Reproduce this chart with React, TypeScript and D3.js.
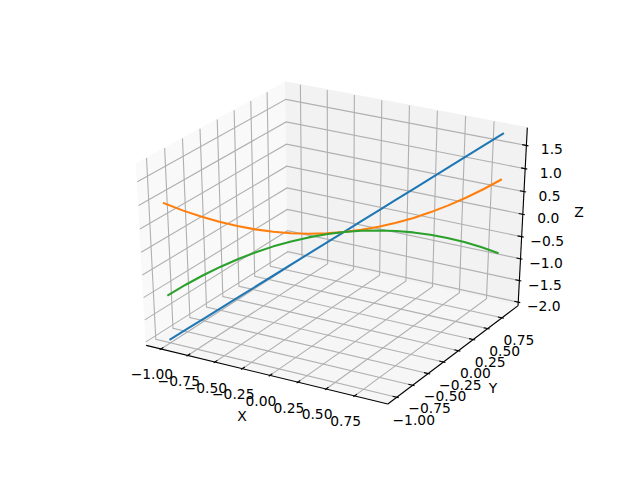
import React from "react";
import * as d3 from "d3";

const xValues = [-1, -0.9, -0.8, -0.7, -0.6, -0.5, -0.4, -0.3, -0.2, -0.1, 0, 0.1, 0.2, 0.3, 0.4, 0.5, 0.6, 0.7, 0.8, 0.9];
const yValues = [-1, -0.9, -0.8, -0.7, -0.6, -0.5, -0.4, -0.3, -0.2, -0.1, 0, 0.1, 0.2, 0.3, 0.4, 0.5, 0.6, 0.7, 0.8, 0.9];
const blueZ = [-2, -1.8, -1.6, -1.4, -1.2, -1, -0.8, -0.6, -0.4, -0.2, 0, 0.2, 0.4, 0.6, 0.8, 1, 1.2, 1.4, 1.6, 1.8];
const orangeZ = [1, 0.81, 0.64, 0.49, 0.36, 0.25, 0.16, 0.09, 0.04, 0.01, 0, 0.01, 0.04, 0.09, 0.16, 0.25, 0.36, 0.49, 0.64, 0.81];
const greenZ = [-1, -0.81, -0.64, -0.49, -0.36, -0.25, -0.16, -0.09, -0.04, -0.01, 0, -0.01, -0.04, -0.09, -0.16, -0.25, -0.36, -0.49, -0.64, -0.81];
const seriesColors = ["#1f77b4", "#ff7f0e", "#2ca02c"];
const xTicks = [-1, -0.75, -0.5, -0.25, 0, 0.25, 0.5, 0.75];
const yTicks = [-1, -0.75, -0.5, -0.25, 0, 0.25, 0.5, 0.75];
const zTicks = [-2, -1.5, -1, -0.5, 0, 0.5, 1, 1.5];

const sx = d3.scaleLinear().domain([-1.1385, 1.0385]).range([0, 1]);
const sy = d3.scaleLinear().domain([-1.1385, 1.0385]).range([0, 1]);
const sz = d3.scaleLinear().domain([-2.08, 1.88]).range([0, 1]);

type V3 = [number, number, number];
const W: V3 = [0.433, -0.75, 0.5];
const U: V3 = [0.866, 0.5, 0];
const Vv: V3 = [-0.25, 0.433, 0.866];
const dot = (a: V3, b: V3) => a[0] * b[0] + a[1] * b[1] + a[2] * b[2];
const DIST = 10;
const screenX = d3.scaleLinear().domain([0, 1]).range([335, 335 + 2790]);
const screenY = d3.scaleLinear().domain([0, 1]).range([237.5, 237.5 - 2076]);

// unit cube -> screen pixels
function pu(a: number, b: number, c: number): [number, number] {
  const p: V3 = [a - 0.5, b - 0.5, c - 0.5];
  const d = DIST - dot(W, p);
  return [screenX(dot(U, p) / d), screenY(dot(Vv, p) / d)];
}
// data -> screen pixels
const pd = (x: number, y: number, z: number) => pu(sx(x), sy(y), sz(z));

const poly = (pts: [number, number][]) => pts.map((p) => p.join(",")).join(" ");
const lineGen = d3.line<[number, number]>().x((d) => d[0]).y((d) => d[1]);
const fmt2 = (v: number) => d3.format(".2f")(v).replace("-", "\u2212");
const fmt1 = (v: number) => d3.format(".1f")(v).replace("-", "\u2212");

export default function App() {
  const series = [blueZ, orangeZ, greenZ];
  const font = "'DejaVu Sans'";
  const grid = "#b0b0b0";
  const lw = 1.11;
  const L = (a: [number, number], b: [number, number], stroke: string, key: string, w = lw) => (
    <line key={key} x1={a[0]} y1={a[1]} x2={b[0]} y2={b[1]} stroke={stroke} strokeWidth={w} />
  );
  const tx = 0.1 / 12;
  return (
    <svg width={640} height={480} style={{ position: "absolute", left: 0, top: 0 }}>
      <rect width={640} height={480} fill="#fff" />
      {/* panes */}
      <polygon points={poly([pu(0, 0, 0), pu(0, 1, 0), pu(0, 1, 1), pu(0, 0, 1)])} fill="#f9f9f9" stroke="#f9f9f9" strokeWidth={lw} />
      <polygon points={poly([pu(0, 1, 0), pu(1, 1, 0), pu(1, 1, 1), pu(0, 1, 1)])} fill="#f2f2f2" stroke="#f2f2f2" strokeWidth={lw} />
      <polygon points={poly([pu(0, 0, 0), pu(1, 0, 0), pu(1, 1, 0), pu(0, 1, 0)])} fill="#f6f6f6" stroke="#f6f6f6" strokeWidth={lw} />
      {/* grids */}
      {xTicks.map((t) => (
        <polyline key={"gx" + t} fill="none" stroke={grid} strokeWidth={lw}
          points={poly([pu(sx(t), 0, 0), pu(sx(t), 1, 0), pu(sx(t), 1, 1)])} />
      ))}
      {yTicks.map((t) => (
        <polyline key={"gy" + t} fill="none" stroke={grid} strokeWidth={lw}
          points={poly([pu(1, sy(t), 0), pu(0, sy(t), 0), pu(0, sy(t), 1)])} />
      ))}
      {zTicks.map((t) => (
        <polyline key={"gz" + t} fill="none" stroke={grid} strokeWidth={lw}
          points={poly([pu(0, 0, sz(t)), pu(0, 1, sz(t)), pu(1, 1, sz(t))])} />
      ))}
      {/* axes lines */}
      {L(pu(0, 0, 0), pu(1, 0, 0), "#000", "ax")}
      {L(pu(1, 0, 0), pu(1, 1, 0), "#000", "ay")}
      {L(pu(1, 1, 0), pu(1, 1, 1), "#000", "az")}
      {/* ticks */}
      {xTicks.map((t) => L(pu(sx(t), tx * 2, 0), pu(sx(t), -tx, 0), "#000", "tx" + t))}
      {yTicks.map((t) => L(pu(1 - tx * 2, sy(t), 0), pu(1 + tx, sy(t), 0), "#000", "ty" + t))}
      {zTicks.map((t) => L(pu(1 - tx * 2, 1, sz(t)), pu(1 + tx, 1, sz(t)), "#000", "tz" + t))}
      {/* tick labels */}
      <g fontFamily={font} fontSize={13.89} fill="#000" textAnchor="middle">
        {xTicks.map((t) => {
          const [a, b] = pu(sx(t), 0, 0);
          return <text key={"lx" + t} x={a - 9} y={b + 25.5} dy="0.36em">{fmt2(t)}</text>;
        })}
        {yTicks.map((t) => {
          const [a, b] = pu(1, sy(t), 0);
          return <text key={"ly" + t} x={a + 17} y={b + 22.5} dy="0.36em">{fmt2(t)}</text>;
        })}
        {zTicks.map((t) => {
          const [a, b] = pu(1, 1, sz(t));
          return <text key={"lz" + t} x={a + 25.5} y={b + 4} dy="0.36em">{fmt1(t)}</text>;
        })}
        <text x={242} y={416} dy="0.36em">X</text>
        <text x={493} y={388} dy="0.36em">Y</text>
        <text x={579} y={212} dy="0.36em">Z</text>
      </g>
      {/* series */}
      {series.map((zs, i) => (
        <path key={i} fill="none" stroke={seriesColors[i]} strokeWidth={2.08} strokeLinecap="square" strokeLinejoin="round"
          d={lineGen(zs.map((z, j) => pd(xValues[j], yValues[j], z))) as string} />
      ))}
    </svg>
  );
}
